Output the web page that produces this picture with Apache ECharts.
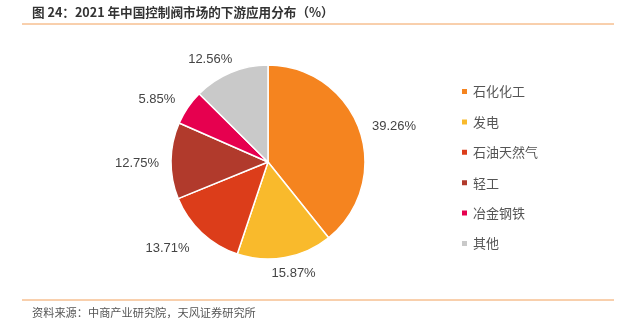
<!DOCTYPE html>
<html>
<head>
<meta charset="utf-8">
<script src="https://cdn.jsdelivr.net/npm/echarts@6/dist/echarts.min.js"></script>
<style>
html,body{margin:0;padding:0;background:#fff;}
#chart{width:624px;height:331px;}
</style>
</head>
<body>
<div id="chart"></div>
<script>
// Downstream application shares of the 2021 control valve market (%)
var categories = ['石化化工', '发电', '石油天然气', '轻工', '冶金钢铁', '其他'];
var shares = [39.26, 15.87, 13.71, 12.75, 5.85, 12.56];

var colors = ['#F5841F', '#F9BA2C', '#DC3D1A', '#B13A2C', '#E6004F', '#C9C9C9'];
// small per-slice nudges for the outside value labels [dx, dy]
var labelNudge = [[0, 0], [-19, 7], [-2, 9], [1, 3], [-1, -3], [9, -5]];

var FONT = '"Noto Sans CJK SC", "Noto Sans", sans-serif';

var chart = echarts.init(document.getElementById('chart'));
chart.setOption({
  animation: false,
  color: colors,
  title: {
    text: '图 24：2021 年中国控制阀市场的下游应用分布（%）',
    left: 27,
    top: 1,
    textStyle: { fontFamily: FONT, fontSize: 12.6, fontWeight: 'bold', color: '#333' }
  },
  legend: {
    orient: 'vertical',
    left: 455,
    top: 80,
    icon: 'rect',
    itemWidth: 7,
    itemHeight: 7,
    itemGap: 17.4,
    textStyle: { fontFamily: FONT, fontSize: 13, color: '#555' },
    data: categories
  },
  graphic: [
    { type: 'line', shape: { x1: 22, y1: 24, x2: 614, y2: 24 }, style: { stroke: '#F2A05A', lineWidth: 1 } },
    { type: 'line', shape: { x1: 22, y1: 300, x2: 614, y2: 300 }, style: { stroke: '#F2A05A', lineWidth: 1 } },
    { type: 'text', left: 32, top: 307, style: { text: '资料来源：中商产业研究院，天风证券研究所', font: '11.2px ' + FONT, fill: '#555' } }
  ],
  series: [{
    type: 'pie',
    center: [268, 162],
    radius: [0, 97],
    startAngle: 90,
    clockwise: true,
    avoidLabelOverlap: false,
    itemStyle: { borderColor: '#fff', borderWidth: 1.5 },
    label: {
      show: true,
      position: 'outside',
      formatter: function (p) { return p.value.toFixed(2) + '%'; },
      fontFamily: 'Liberation Sans, Arial, sans-serif',
      fontSize: 13,
      color: '#444',
      distanceToLabelLine: 4
    },
    labelLine: { show: false, length: 9, length2: 0 },
    labelLayout: function (params) {
      var n = labelNudge[params.dataIndex] || [0, 0];
      return { dx: n[0], dy: n[1] };
    },
    emphasis: { disabled: true },
    data: categories.map(function (c, i) { return { name: c, value: shares[i] }; })
  }]
});
</script>
</body>
</html>
